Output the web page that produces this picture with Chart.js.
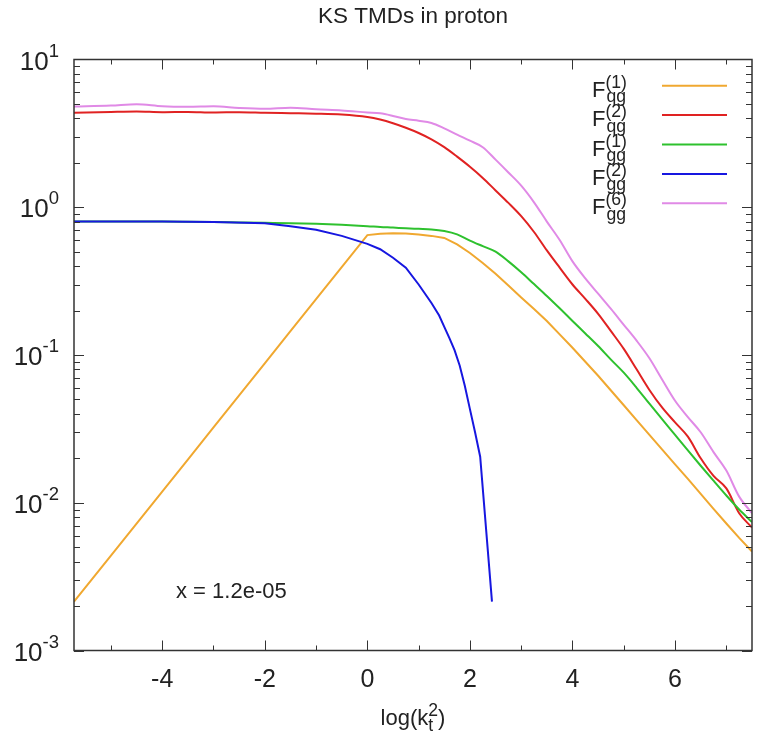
<!DOCTYPE html>
<html>
<head>
<meta charset="utf-8">
<title>KS TMDs in proton</title>
<script src="https://cdn.jsdelivr.net/npm/chart.js@4.4.1/dist/chart.umd.min.js"></script>
<style>
  html, body { margin: 0; padding: 0; background: #fff; }
  #wrap { width: 765px; height: 746px; }
</style>
</head>
<body>
<div id="wrap"><canvas id="tmdChart" width="765" height="746"></canvas></div>
<script>
// log(kt^2) grid shared by most curves
const logKt2 = [-5.72, -5, -4.5, -4, -3.5, -3, -2.5, -2, -1.5, -1, -0.5, 0,
    0.25, 0.5, 0.75, 1, 1.25, 1.5, 1.75, 2, 2.25, 2.5, 2.75, 3, 3.25, 3.5, 3.75, 4,
    4.25, 4.5, 4.75, 5, 5.25, 5.5, 5.75, 6, 6.25, 6.5, 6.75, 7, 7.25, 7.5];

const fqg1 = [0.00214, 0.00439, 0.00723, 0.0119, 0.0196, 0.0324, 0.0533, 0.0879, 0.145, 0.239, 0.394, 0.648,
    0.662, 0.667, 0.665, 0.655, 0.64, 0.62, 0.56, 0.49, 0.42, 0.355, 0.295, 0.245, 0.205, 0.17, 0.138, 0.112,
    0.09, 0.0724, 0.0575, 0.0457, 0.0362, 0.0288, 0.0229, 0.0182, 0.0145, 0.0115, 0.0091, 0.00724, 0.00578, 0.00468];

const fqg2 = [4.36, 4.42, 4.45, 4.40, 4.42, 4.38, 4.40, 4.36, 4.33, 4.30, 4.24, 4.08,
    3.92, 3.70, 3.45, 3.18, 2.88, 2.55, 2.2, 1.88, 1.58, 1.3, 1.07, 0.87, 0.68, 0.51, 0.39, 0.30,
    0.24, 0.19, 0.145, 0.11, 0.08, 0.058, 0.044, 0.035, 0.028, 0.020, 0.0152, 0.0125, 0.0085, 0.0068];

const fgg1 = [0.80, 0.80, 0.80, 0.80, 0.798, 0.795, 0.79, 0.785, 0.78, 0.772, 0.76, 0.745,
    0.735, 0.728, 0.72, 0.714, 0.708, 0.69, 0.655, 0.595, 0.545, 0.50, 0.43, 0.363, 0.302, 0.251, 0.207, 0.17,
    0.14, 0.115, 0.093, 0.0759, 0.06, 0.0468, 0.0367, 0.0288, 0.0226, 0.0178, 0.0141, 0.0112, 0.009, 0.0074];

const fgg6 = [4.80, 4.88, 4.98, 4.82, 4.78, 4.82, 4.70, 4.64, 4.72, 4.60, 4.52, 4.38,
    4.32, 4.15, 3.95, 3.85, 3.72, 3.42, 3.1, 2.82, 2.55, 2.1, 1.72, 1.40, 1.08, 0.80, 0.60, 0.43,
    0.33, 0.26, 0.205, 0.16, 0.125, 0.095, 0.068, 0.049, 0.038, 0.030, 0.022, 0.0165, 0.011, 0.0085];

// F(2)gg has its own points, it stops where it goes negative
const fgg2X = [-5.72, -4, -3, -2, -1.5, -1, -0.5, 0, 0.25, 0.5, 0.75, 1, 1.25, 1.4, 1.5, 1.6, 1.7,
    1.8, 1.9, 2.0, 2.1, 2.2, 2.43];
const fgg2 = [0.80, 0.80, 0.795, 0.78, 0.745, 0.705, 0.64, 0.565, 0.52, 0.455, 0.39, 0.30, 0.225, 0.185, 0.155, 0.13, 0.108,
    0.085, 0.062, 0.043, 0.03, 0.0205, 0.00214];

const xTicks = [-4, -2, 0, 2, 4, 6];
const yTickExps = [-3, -2, -1, 0, 1];

const FONT = '"Liberation Sans", Arial, Helvetica, sans-serif';

function pts(xs, ys) {
    return xs.map((x, i) => ({ x: x, y: ys[i] }));
}

const series = [
    { sup: "(1)", sub: "qg", color: "#f0a830", smooth: false, data: pts(logKt2, fqg1) },
    { sup: "(2)", sub: "qg", color: "#e02222", smooth: true, data: pts(logKt2, fqg2) },
    { sup: "(1)", sub: "gg", color: "#2ec12e", smooth: true, data: pts(logKt2, fgg1) },
    { sup: "(2)", sub: "gg", color: "#1717e0", smooth: false, data: pts(fgg2X, fgg2) },
    { sup: "(6)", sub: "gg", color: "#e08ae6", smooth: true, data: pts(logKt2, fgg6) }
];

function richWidth(ctx, parts) {
    let w = 0;
    parts.forEach(p => {
        ctx.font = p.size + "px " + FONT;
        w += ctx.measureText(p.t).width;
    });
    return w;
}
function drawRich(ctx, parts, x, y) {
    let cx = x;
    parts.forEach(p => {
        ctx.font = p.size + "px " + FONT;
        ctx.fillText(p.t, cx, y + (p.dy || 0));
        cx += ctx.measureText(p.t).width;
    });
}

const decor = {
    id: "decor",
    afterDraw(chart) {
        const ctx = chart.ctx;
        const a = chart.chartArea;
        const xs = chart.scales.x;
        const ys = chart.scales.y;
        ctx.save();
        ctx.fillStyle = "#222";
        ctx.strokeStyle = "#333";
        ctx.textBaseline = "alphabetic";

        // ticks, drawn inwards on all four sides
        ctx.lineWidth = 1;
        ctx.beginPath();
        for (let v = -5; v <= 7; v++) {
            const px = Math.round(xs.getPixelForValue(v)) + 0.5;
            const len = (v % 2 === 0) ? 10 : 5;
            ctx.moveTo(px, a.bottom); ctx.lineTo(px, a.bottom - len);
            ctx.moveTo(px, a.top); ctx.lineTo(px, a.top + len);
        }
        for (let e = -3; e <= 0; e++) {
            for (let m = 1; m <= 9; m++) {
                const py = Math.round(ys.getPixelForValue(m * Math.pow(10, e))) + 0.5;
                const len = (m === 1) ? 10 : 6;
                ctx.moveTo(a.left, py); ctx.lineTo(a.left + len, py);
                ctx.moveTo(a.right, py); ctx.lineTo(a.right - len, py);
            }
        }
        ctx.stroke();

        // frame
        ctx.lineWidth = 1.5;
        ctx.strokeRect(a.left, a.top, a.right - a.left, a.bottom - a.top);

        // x tick labels
        ctx.textAlign = "center";
        ctx.font = "25px " + FONT;
        xTicks.forEach(v => {
            ctx.fillText(String(v), xs.getPixelForValue(v), 687);
        });

        // y tick labels 10^n
        ctx.textAlign = "left";
        yTickExps.forEach(e => {
            const py = ys.getPixelForValue(Math.pow(10, e));
            const parts = [{ t: "10", size: 26, dy: 10 }, { t: String(e), size: 18.5, dy: -3 }];
            const w = richWidth(ctx, parts);
            drawRich(ctx, parts, 59 - w, py);
        });

        // title
        ctx.textAlign = "center";
        ctx.font = "22.5px " + FONT;
        ctx.fillText("KS TMDs in proton", (a.left + a.right) / 2, 22.5);

        // x axis title log(kt^2), sub and sup stacked
        ctx.textAlign = "left";
        ctx.font = "22px " + FONT;
        const w1 = ctx.measureText("log(k").width;
        ctx.font = "17.6px " + FONT;
        const wS = Math.max(ctx.measureText("t").width, ctx.measureText("2").width);
        ctx.font = "22px " + FONT;
        const w2 = ctx.measureText(")").width;
        const x0 = (a.left + a.right) / 2 - (w1 + wS + w2) / 2;
        const by = 725;
        drawRich(ctx, [{ t: "log(k", size: 22 }], x0, by);
        drawRich(ctx, [{ t: "t", size: 17.6, dy: 6 }], x0 + w1, by);
        drawRich(ctx, [{ t: "2", size: 17.6, dy: -9 }], x0 + w1, by);
        drawRich(ctx, [{ t: ")", size: 22 }], x0 + w1 + wS, by);

        // annotation
        ctx.font = "22px " + FONT;
        ctx.fillText("x = 1.2e-05", 176, 598);

        // key
        series.forEach((s, i) => {
            const ly = 85.7 + 29.4 * i;
            ctx.font = "22px " + FONT;
            const wf = ctx.measureText("F").width;
            drawRich(ctx, [{ t: "F", size: 22 }], 592, ly + 11);
            drawRich(ctx, [{ t: s.sup, size: 17.6 }], 592 + wf, ly + 2);
            drawRich(ctx, [{ t: s.sub, size: 17.6 }], 592 + wf + 1, ly + 16.5);
            ctx.strokeStyle = s.color;
            ctx.lineWidth = 2;
            ctx.beginPath();
            ctx.moveTo(662, ly);
            ctx.lineTo(727, ly);
            ctx.stroke();
        });
        ctx.restore();
    }
};

new Chart(document.getElementById("tmdChart").getContext("2d"), {
    type: "line",
    data: {
        datasets: series.map((s, i) => ({
            label: "F" + s.sup + s.sub,
            data: s.data,
            borderColor: s.color,
            backgroundColor: s.color,
            borderWidth: 2,
            pointRadius: 0,
            tension: 0,
            cubicInterpolationMode: s.smooth ? "monotone" : "default",
            fill: false,
            order: series.length - i
        }))
    },
    options: {
        responsive: false,
        animation: false,
        devicePixelRatio: 1,
        layout: { padding: { top: 59.5, right: 13, left: 0, bottom: 0 } },
        plugins: {
            legend: { display: false },
            title: { display: false },
            tooltip: { enabled: false }
        },
        scales: {
            x: {
                type: "linear",
                min: -5.72,
                max: 7.5,
                grid: { display: false },
                border: { display: false },
                ticks: { display: false },
                afterFit: (scale) => { scale.height = 95.5; }
            },
            y: {
                type: "logarithmic",
                min: 0.001,
                max: 10,
                grid: { display: false },
                border: { display: false },
                ticks: { display: false },
                afterFit: (scale) => { scale.width = 74; }
            }
        }
    },
    plugins: [decor]
});
</script>
</body>
</html>
